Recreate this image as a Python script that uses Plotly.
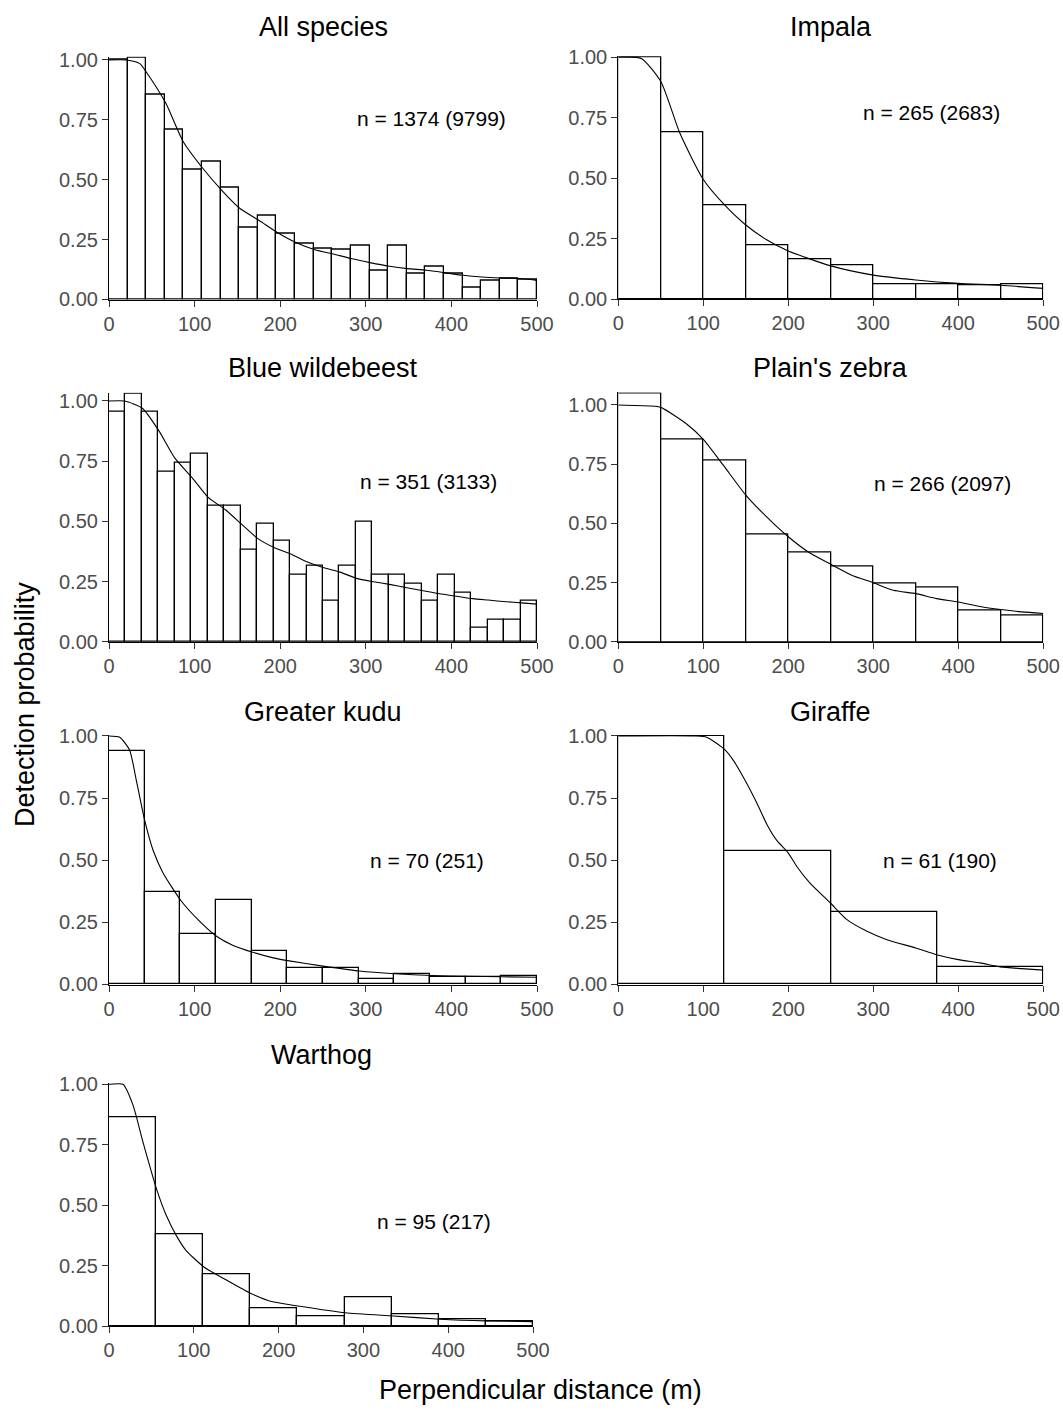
import plotly.graph_objects as go

# ---------------- data ----------------
species = ["All species", "Impala", "Blue wildebeest", "Plain's zebra",
           "Greater kudu", "Giraffe", "Warthog"]
n_labels = ["n = 1374 (9799)", "n = 265 (2683)", "n = 351 (3133)", "n = 266 (2097)",
            "n = 70 (251)", "n = 61 (190)", "n = 95 (217)"]

# histogram bar heights (equal-width bins spanning 0-500 m)
bars_all = [1.00, 1.01, 0.856, 0.708, 0.542, 0.576, 0.467, 0.299, 0.35, 0.275, 0.233,
            0.2125, 0.208, 0.224, 0.122, 0.224, 0.108, 0.136, 0.108, 0.049, 0.08, 0.0875, 0.085]
bars_impala = [1.0, 0.689, 0.39, 0.2245, 0.165, 0.142, 0.062, 0.062, 0.056, 0.063]
bars_wildebeest = [0.956, 1.03, 0.956, 0.706, 0.743, 0.78, 0.567, 0.567, 0.382, 0.492, 0.419,
                   0.28, 0.317, 0.171, 0.317, 0.50, 0.278, 0.278, 0.243, 0.171, 0.28, 0.206,
                   0.058, 0.094, 0.094, 0.169]
bars_zebra = [1.049, 0.855, 0.768, 0.455, 0.38, 0.32, 0.246, 0.23, 0.134, 0.11]
bars_kudu = [0.941, 0.373, 0.203, 0.34, 0.134, 0.068, 0.068, 0.024, 0.041, 0.031, 0.031, 0.033]
bars_giraffe = [1.0, 0.538, 0.29, 0.071]
bars_warthog = [0.863, 0.381, 0.212, 0.073, 0.039, 0.118, 0.05, 0.028, 0.02]

# fitted detection-function curves (distance, probability)
curve_all_x = [0, 20, 36, 43.7, 66.3, 86.6, 110, 132, 153, 175.5, 196.6, 219, 240.6, 262, 284,
               305, 327.6, 348.7, 371, 394, 414, 435.6, 457, 480, 500]
curve_all_y = [1.0, 1.0, 0.985, 0.949, 0.82, 0.66, 0.546, 0.455, 0.38, 0.33, 0.28, 0.237, 0.208,
               0.19, 0.17, 0.154, 0.139, 0.129, 0.122, 0.111, 0.101, 0.094, 0.09, 0.0875, 0.08]
curve_impala_x = [0, 27, 50, 72.5, 100, 125, 150, 175, 200, 250, 300, 350, 400, 450, 500]
curve_impala_y = [1.0, 0.995, 0.90, 0.686, 0.495, 0.39, 0.307, 0.245, 0.20, 0.138, 0.10,
                  0.08, 0.066, 0.058, 0.045]
curve_wildebeest_x = [0, 18.3, 39, 58.5, 76.8, 97.5, 115.8, 136, 154.8, 173.5, 194, 213, 231,
                      251, 270, 289, 309, 327.6, 348, 367, 386, 406, 425, 443, 464, 482, 500]
curve_wildebeest_y = [1.0, 1.0, 0.97, 0.875, 0.764, 0.68, 0.60, 0.549, 0.489, 0.43, 0.39, 0.364,
                      0.333, 0.308, 0.29, 0.264, 0.25, 0.239, 0.225, 0.2125, 0.20, 0.19, 0.18,
                      0.174, 0.167, 0.1625, 0.157]
curve_zebra_x = [0, 37, 50, 80.4, 100, 123.5, 150, 174.5, 200, 223.5, 250, 274.5, 300, 323.5,
                 350, 374.5, 400, 425.5, 450, 474.5, 500]
curve_zebra_y = [1.0, 0.996, 0.99, 0.92, 0.855, 0.746, 0.62, 0.528, 0.444, 0.38, 0.328, 0.282,
                 0.25, 0.218, 0.204, 0.183, 0.169, 0.15, 0.137, 0.127, 0.12]
curve_kudu_x = [0, 12.5, 24, 32, 41.7, 51.5, 63, 84.6, 106, 125.6, 145, 167.7, 192, 208.7, 250,
                292.5, 334, 377, 418, 459, 500]
curve_kudu_y = [1.0, 0.995, 0.944, 0.82, 0.66, 0.54, 0.45, 0.335, 0.254, 0.194, 0.157, 0.13,
                0.107, 0.096, 0.074, 0.054, 0.043, 0.036, 0.033, 0.031, 0.029]
curve_giraffe_x = [0, 90, 104, 125, 135.7, 151, 163, 175, 186, 200, 210, 225.5, 249, 269, 292,
                   316, 350, 374.5, 400, 425.5, 449, 474.5, 500]
curve_giraffe_y = [1.0, 1.0, 0.995, 0.946, 0.90, 0.81, 0.73, 0.643, 0.582, 0.529, 0.475, 0.408,
                   0.33, 0.261, 0.215, 0.18, 0.147, 0.12, 0.10, 0.087, 0.071, 0.064, 0.058]
curve_warthog_x = [0, 16.5, 28.3, 40, 56.6, 67.6, 79.4, 91, 112.8, 138, 166.7, 193, 222.8,
                   278.7, 335, 390.7, 445, 500]
curve_warthog_y = [1.0, 1.0, 0.914, 0.762, 0.561, 0.457, 0.374, 0.312, 0.242, 0.191, 0.136,
                   0.10, 0.083, 0.055, 0.0415, 0.028, 0.021, 0.018]

x_ticks = [0, 100, 200, 300, 400, 500]
y_ticks = [0.00, 0.25, 0.50, 0.75, 1.00]
y_tick_text = ["0.00", "0.25", "0.50", "0.75", "1.00"]
x_max = 500

all_bars = [bars_all, bars_impala, bars_wildebeest, bars_zebra, bars_kudu, bars_giraffe, bars_warthog]
all_cx = [curve_all_x, curve_impala_x, curve_wildebeest_x, curve_zebra_x, curve_kudu_x,
          curve_giraffe_x, curve_warthog_x]
all_cy = [curve_all_y, curve_impala_y, curve_wildebeest_y, curve_zebra_y, curve_kudu_y,
          curve_giraffe_y, curve_warthog_y]
label_pos = [(377, 0.757), (368, 0.771), (373, 0.665), (381, 0.667),
             (371, 0.498), (379, 0.498), (383, 0.431)]

# ---------------- layout (pixel boxes) ----------------
W, H = 1063, 1410
# (left px, right px, bottom px, px per unit y)
boxes = [
    (109, 537, 299.5, 239.5),
    (618.3, 1043.3, 299.3, 242),
    (109, 537, 642, 241),
    (618.3, 1043.3, 642, 237),
    (109, 537, 984.5, 248.5),
    (618.3, 1043.3, 984.5, 248.5),
    (109, 533, 1326, 241.7),
]
title_y = [27, 27, 368, 368, 712, 712, 1055]

FONT = "Liberation Sans, Arial, sans-serif"
fig = go.Figure()
annotations = []

for i, name in enumerate(species):
    ax = "" if i == 0 else str(i + 1)
    xa, ya = "x" + ax, "y" + ax
    bars = all_bars[i]
    nb = len(bars)
    w = x_max / nb
    centers = [w * (k + 0.5) for k in range(nb)]
    fig.add_trace(go.Bar(x=centers, y=bars, width=w, marker=dict(color="white",
                  line=dict(color="black", width=1.3)), xaxis=xa, yaxis=ya,
                  showlegend=False, hoverinfo="skip"))
    fig.add_trace(go.Scatter(x=all_cx[i], y=all_cy[i], mode="lines",
                  line=dict(color="black", width=1.1, shape="spline", smoothing=0.6),
                  xaxis=xa, yaxis=ya, showlegend=False, hoverinfo="skip"))

    l, r, b, ppu = boxes[i]
    ymax = max(max(bars), max(all_cy[i])) + 0.004
    top = b - ymax * ppu
    xdom = [l / W, r / W]
    ydom = [1 - b / H, 1 - top / H]
    common = dict(showgrid=False, zeroline=False, showline=True, linecolor="black",
                  linewidth=1.1, ticks="outside", ticklen=6, tickcolor="#333333",
                  tickwidth=1.1, automargin=False,
                  tickfont=dict(family=FONT, size=20, color="#4D4D4D"))
    fig.update_layout(**{
        "xaxis" + ax: dict(domain=xdom, range=[0, x_max], tickvals=x_ticks,
                           anchor=ya, **common),
        "yaxis" + ax: dict(domain=ydom, range=[0, ymax], tickvals=y_ticks,
                           ticktext=y_tick_text, anchor=xa, **common),
    })
    annotations.append(dict(text=name, x=(l + r) / 2 / W, y=1 - title_y[i] / H,
                            xref="paper", yref="paper", showarrow=False,
                            xanchor="center", yanchor="middle",
                            font=dict(family=FONT, size=27, color="black")))
    lx, ly = label_pos[i]
    annotations.append(dict(text=n_labels[i], x=lx, y=ly, xref=xa, yref=ya,
                            showarrow=False, xanchor="center", yanchor="middle",
                            font=dict(family=FONT, size=21, color="black")))

annotations.append(dict(text="Perpendicular distance (m)", x=540 / W, y=1 - 1390 / H,
                        xref="paper", yref="paper", showarrow=False,
                        xanchor="center", yanchor="middle",
                        font=dict(family=FONT, size=27, color="black")))
annotations.append(dict(text="Detection probability", x=25 / W, y=1 - 705 / H,
                        xref="paper", yref="paper", showarrow=False, textangle=-90,
                        xanchor="center", yanchor="middle",
                        font=dict(family=FONT, size=27, color="black")))

fig.update_layout(width=W, height=H, margin=dict(l=0, r=0, t=0, b=0, autoexpand=False),
                  paper_bgcolor="white", plot_bgcolor="white", bargap=0,
                  annotations=annotations, font=dict(family=FONT))

fig.write_html("out.html", config={"displayModeBar": False},
               post_script="document.body.style.margin='0px';"
                           "document.body.style.overflow='hidden';")
